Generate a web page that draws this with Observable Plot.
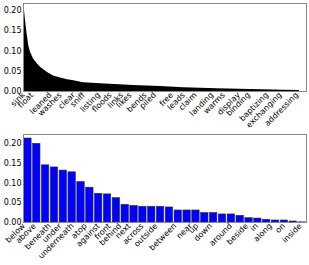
<!DOCTYPE html>
<html>
<head>
<meta charset="utf-8">
<script src="https://cdn.jsdelivr.net/npm/d3@7"></script>
<script src="https://cdn.jsdelivr.net/npm/@observablehq/plot@0.6"></script>
<style>
  html, body { margin: 0; padding: 0; background: #fff; }
  #chart svg { display: block; }
</style>
</head>
<body>
<div id="chart"></div>
<script>
// ---- Top panel: word frequency (long tail), rank vs. value ----
const topRanks = [0, 1, 2, 3.7, 5.3, 7, 10, 14, 17, 24, 30, 37, 44, 49, 60, 77, 110, 137, 160, 194, 227, 260, 276];
const topFreq  = [0.209, 0.200, 0.175, 0.140, 0.112, 0.097, 0.080, 0.068, 0.060, 0.047, 0.038, 0.033, 0.029, 0.027, 0.0215, 0.019, 0.0148, 0.0123, 0.009, 0.0067, 0.005, 0.0032, 0.0025];
const topLabels = ["sink", "float", "leaned", "washes", "clear", "sniff", "listing", "floods", "links", "likes", "bends", "piled", "free", "leads", "claim", "landing", "warms", "display", "binding", "baptizing", "exchanging", "addressing"];
const topTickAt = [2, 10.3, 28.7, 38.7, 52, 62, 77, 88.7, 100.3, 108.7, 123.7, 133, 150.3, 162, 173.7, 190.3, 202, 217, 227, 245.3, 258.7, 275.3];
const topRankMax = 283;

// ---- Bottom panel: prepositions ----
const barFreq = [0.2135, 0.200, 0.1454, 0.140, 0.132, 0.1276, 0.103, 0.0885, 0.073, 0.0715, 0.062, 0.045,
                 0.042, 0.040, 0.040, 0.040, 0.0383, 0.0306, 0.0306, 0.0306, 0.024, 0.024, 0.0205, 0.0205,
                 0.017, 0.011, 0.010, 0.0069, 0.0051, 0.0051, 0.0026, 0.0004];
const barLabels = ["below", "above", "beneath", "under", "underneath", "atop", "against", "front", "behind", "next", "across", "outside", "between", "near", "up", "down", "around", "beside", "in", "along", "on", "inside"];
const barTickAt = [0.23, 1.46, 3.15, 4.36, 5.75, 7.21, 8.68, 9.92, 11.12, 12.17, 13.63, 15.21, 17.35, 19.12, 19.83, 21.37, 23.63, 25.46, 26.59, 28.14, 29.63, 31.52];

const yTicks = [0, 0.05, 0.10, 0.15, 0.20];

const topData = topRanks.map((r, i) => ({rank: r, value: topFreq[i]}));
const topTicks = topLabels.map((t, i) => ({label: t, at: topTickAt[i]}));
const bars = barFreq.map((v, i) => ({i, value: v}));
const barTicks = barLabels.map((t, i) => ({label: t, at: barTickAt[i]}));

const font = "DejaVu Sans, sans-serif";

const topChart = Plot.plot({
  width: 309, height: 133,
  marginLeft: 23, marginRight: 3, marginTop: 3, marginBottom: 42,
  style: {fontFamily: font, fontSize: "8px", color: "#000", background: "#fff"},
  x: {domain: [0, topRankMax], axis: null},
  y: {domain: [0, 0.217], ticks: yTicks, tickFormat: ".2f", tickSize: 0, tickPadding: 2, label: null},
  marks: [
    Plot.areaY(topData, {x: "rank", y: "value", fill: "#000", curve: "linear"}),
    Plot.text(topTicks, {x: "at", frameAnchor: "bottom", text: "label", rotate: -45, textAnchor: "end", dy: 4, fontSize: 8}),
    Plot.frame({stroke: "#888"})
  ]
});

const bottomChart = Plot.plot({
  width: 309, height: 132,
  marginLeft: 23, marginRight: 3, marginTop: 1, marginBottom: 43,
  style: {fontFamily: font, fontSize: "8px", color: "#000", background: "#fff"},
  x: {domain: [0, barFreq.length], axis: null},
  y: {domain: [0, 0.2237], ticks: yTicks, tickFormat: ".2f", tickSize: 0, tickPadding: 2, label: null},
  marks: [
    Plot.rectY(bars, {x1: d => d.i + 0.08, x2: d => d.i + 0.92, y: "value", fill: "#0000ff", stroke: "#333", strokeWidth: 0.6}),
    Plot.text(barTicks, {x: "at", frameAnchor: "bottom", text: "label", rotate: -45, textAnchor: "end", dy: 4, fontSize: 8}),
    Plot.frame({stroke: "#888"})
  ]
});

document.getElementById("chart").append(topChart, bottomChart);
</script>
</body>
</html>
